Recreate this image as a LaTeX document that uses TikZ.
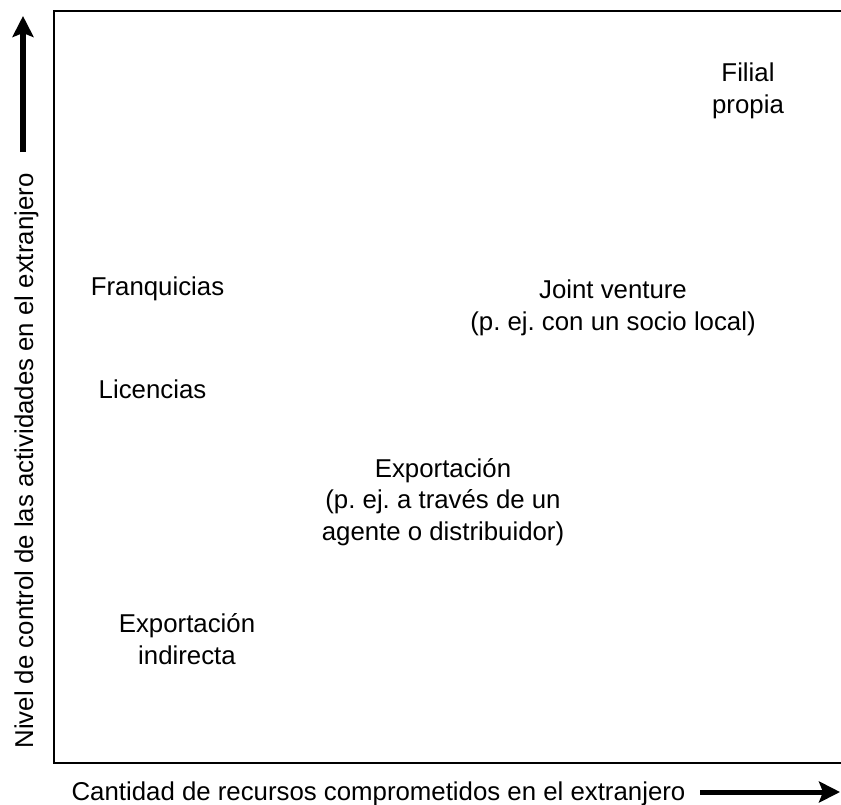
\documentclass[tikz,border=0pt]{standalone}
\usepackage{fontspec}
\setmainfont{Liberation Sans}
\usetikzlibrary{arrows.meta}
\frenchspacing
\begin{document}
\begin{tikzpicture}[x=1pt,y=-1pt,
  lbl/.style={inner sep=0pt,outer sep=0pt,align=center,anchor=base,
    font=\fontsize{25.8}{31.5}\selectfont\frenchspacing},
  frame/.style={line width=2pt},
  bigarrow/.style={line width=6pt,-{Stealth[length=21pt,width=21pt,inset=4pt]}}]
\useasboundingbox (0,0) rectangle (841,804);
% frame (open on the right, cut by the picture edge)
\coordinate (tr) at (842,11);
\coordinate (tl) at (54,11);
\coordinate (bl) at (54,763);
\coordinate (br) at (842,763);
\draw[frame] (tr) -- (tl) -- (bl) -- (br);
% labels inside (anchor = baseline of the last line)
\node[lbl] (filial) at (748,113) {Filial\\propia};
\node[lbl] (franq) at (157.5,295) {Franquicias};
\node[lbl] (joint) at (613,330) {Joint venture\\(p. ej. con un socio local)};
\node[lbl] (lic) at (152.5,398) {Licencias};
\node[lbl] (exp) at (443,540) {Exportación\\(p. ej. a través de un\\agente o distribuidor)};
\node[lbl] (expind) at (187,664) {Exportación\\indirecta};
% axis labels
\node[lbl,rotate=90] (ylab) at (33,461) {Nivel de control de las actividades en el extranjero};
\node[lbl] (xlab) at (378.5,800) {Cantidad de recursos comprometidos en el extranjero};
% axis arrows
\coordinate (ya) at (23,152);
\coordinate (yb) at (23,16);
\coordinate (xa) at (700,792);
\coordinate (xb) at (840,792);
\draw[bigarrow] (ya) -- (yb);
\draw[bigarrow,line width=5pt] (xa) -- (xb);
\end{tikzpicture}
\end{document}
